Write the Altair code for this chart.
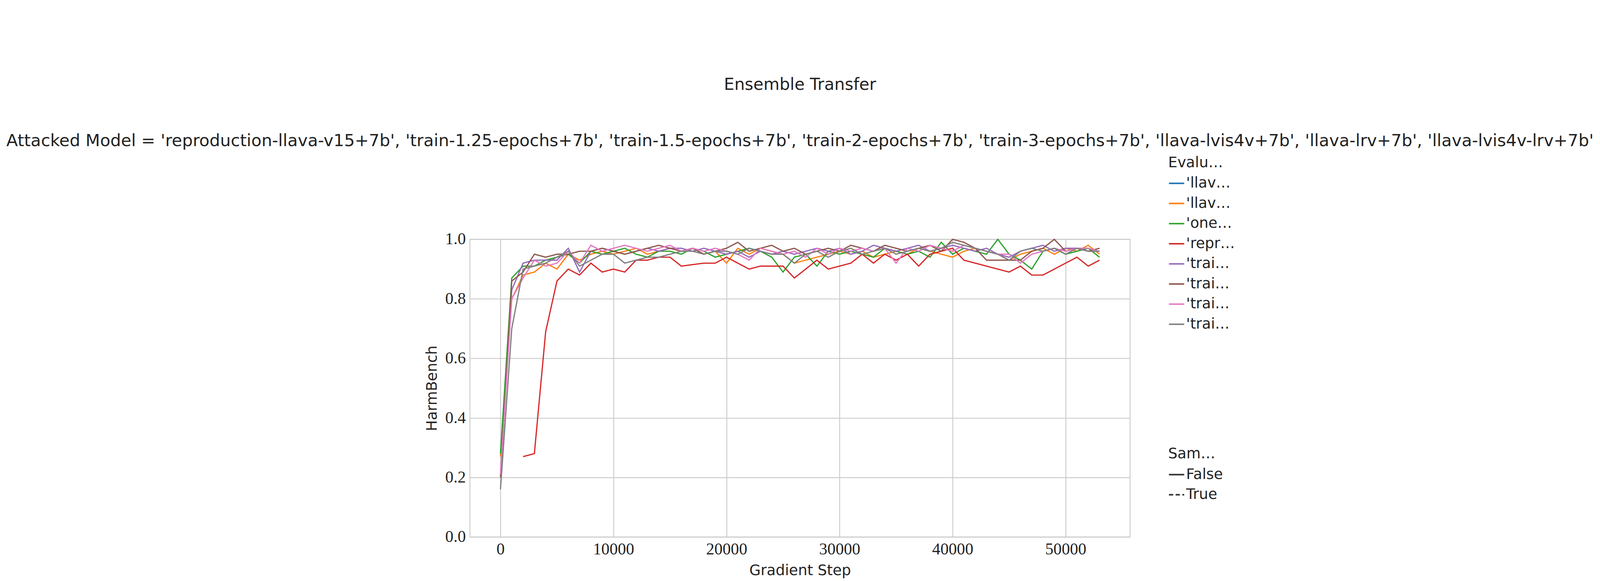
import altair as alt
import pandas as pd

steps = [i * 1000 for i in range(54)]

models = ["'llava-lrv+7b'", "'llava-lvis4v+7b'", "'one-stage+7b'", "'reproduction-llava-v15+7b'",
          "'train-1.25-epochs+7b'", "'train-1.5-epochs+7b'", "'train-2-epochs+7b'", "'train-3-epochs+7b'"]
colors = ["#1f77b4", "#ff7f0e", "#2ca02c", "#d62728", "#9467bd", "#8c564b", "#e377c2", "#7f7f7f"]

orange = [0.27, 0.80, 0.88, 0.89, 0.92, 0.90, 0.95, 0.93, 0.95, 0.96, 0.95, 0.96, 0.97, 0.95, 0.96, 0.97,
          0.96, 0.97, 0.95, 0.96, 0.92, 0.97, 0.95, 0.97, 0.96, 0.95, 0.92, 0.93, 0.94, 0.95, 0.96, 0.95,
          0.96, 0.94, 0.95, 0.96, 0.95, 0.97, 0.96, 0.95, 0.94, 0.96, 0.97, 0.96, 0.95, 0.93, 0.95, 0.96,
          0.97, 0.95, 0.97, 0.96, 0.98, 0.95]
green = [0.28, 0.87, 0.91, 0.91, 0.93, 0.94, 0.95, 0.92, 0.96, 0.95, 0.96, 0.97, 0.95, 0.94, 0.96, 0.96,
         0.95, 0.97, 0.96, 0.94, 0.95, 0.96, 0.97, 0.96, 0.94, 0.89, 0.94, 0.95, 0.91, 0.96, 0.95, 0.96,
         0.95, 0.94, 0.97, 0.96, 0.95, 0.96, 0.94, 0.99, 0.95, 0.97, 0.96, 0.95, 1.00, 0.95, 0.93, 0.90,
         0.96, 0.97, 0.95, 0.96, 0.97, 0.94]
red = [None, None, 0.27, 0.28, 0.69, 0.86, 0.90, 0.88, 0.92, 0.89, 0.90, 0.89, 0.93, 0.93, 0.94, 0.94,
       0.91, 0.915, 0.92, 0.92, 0.94, 0.92, 0.90, 0.91, 0.91, 0.91, 0.87, 0.90, 0.93, 0.90, 0.91, 0.92,
       0.95, 0.92, 0.95, 0.93, 0.95, 0.91, 0.95, 0.96, 0.97, 0.93, 0.92, 0.91, 0.90, 0.89, 0.91, 0.88,
       0.88, 0.90, 0.92, 0.94, 0.91, 0.93]
purple = [0.21, 0.83, 0.92, 0.93, 0.93, 0.93, 0.97, 0.89, 0.96, 0.97, 0.96, 0.95, 0.96, 0.97, 0.96, 0.97,
          0.97, 0.96, 0.97, 0.96, 0.95, 0.96, 0.94, 0.96, 0.95, 0.96, 0.95, 0.96, 0.97, 0.96, 0.97, 0.95,
          0.96, 0.98, 0.97, 0.96, 0.97, 0.98, 0.96, 0.97, 0.98, 0.97, 0.96, 0.97, 0.95, 0.94, 0.96, 0.97,
          0.98, 0.96, 0.97, 0.97, 0.96, 0.96]
brown = [0.20, 0.86, 0.89, 0.95, 0.94, 0.95, 0.95, 0.96, 0.96, 0.97, 0.96, 0.95, 0.96, 0.97, 0.98, 0.97,
         0.96, 0.97, 0.95, 0.96, 0.97, 0.99, 0.96, 0.97, 0.98, 0.96, 0.97, 0.95, 0.96, 0.97, 0.96, 0.98,
         0.97, 0.96, 0.98, 0.97, 0.96, 0.97, 0.98, 0.96, 1.00, 0.99, 0.97, 0.93, 0.93, 0.93, 0.93, 0.96,
         0.97, 1.00, 0.96, 0.97, 0.96, 0.97]
pink = [0.21, 0.80, 0.87, 0.93, 0.91, 0.92, 0.96, 0.92, 0.98, 0.96, 0.97, 0.98, 0.97, 0.96, 0.97, 0.98,
        0.96, 0.97, 0.96, 0.97, 0.96, 0.95, 0.93, 0.97, 0.96, 0.95, 0.96, 0.94, 0.97, 0.95, 0.97, 0.96,
        0.97, 0.96, 0.97, 0.92, 0.97, 0.96, 0.98, 0.97, 0.96, 0.98, 0.97, 0.96, 0.95, 0.95, 0.92, 0.95,
        0.96, 0.97, 0.96, 0.97, 0.97, 0.96]
gray = [0.16, 0.70, 0.90, 0.91, 0.92, 0.94, 0.96, 0.91, 0.93, 0.95, 0.95, 0.92, 0.93, 0.94, 0.94, 0.95,
        0.96, 0.96, 0.95, 0.96, 0.96, 0.95, 0.97, 0.96, 0.95, 0.95, 0.92, 0.95, 0.96, 0.94, 0.96, 0.97,
        0.95, 0.96, 0.97, 0.95, 0.96, 0.97, 0.96, 0.97, 0.99, 0.98, 0.97, 0.96, 0.95, 0.93, 0.96, 0.97,
        0.96, 0.97, 0.95, 0.97, 0.96, 0.96]

series = {models[1]: orange, models[2]: green, models[3]: red, models[4]: purple,
          models[5]: brown, models[6]: pink, models[7]: gray}

rows = []
for name, vals in series.items():
    for s, v in zip(steps, vals):
        if v is not None:
            rows.append({"step": s, "score": v, "model": name, "same": "False"})
df = pd.DataFrame(rows)

subtitle = ("Attacked Model = 'reproduction-llava-v15+7b', 'train-1.25-epochs+7b', 'train-1.5-epochs+7b', "
            "'train-2-epochs+7b', 'train-3-epochs+7b', 'llava-lvis4v+7b', 'llava-lrv+7b', 'llava-lvis4v-lrv+7b'")

fs = 48
chart = alt.Chart(df).mark_line(strokeWidth=4).encode(
    x=alt.X("step:Q", title="Gradient Step", scale=alt.Scale(domain=[-2700, 55700], nice=False, zero=False),
            axis=alt.Axis(values=[0, 10000, 20000, 30000, 40000, 50000], format="d")),
    y=alt.Y("score:Q", title="HarmBench", scale=alt.Scale(domain=[0, 1]),
            axis=alt.Axis(values=[0, 0.2, 0.4, 0.6, 0.8, 1.0], format=".1f")),
    color=alt.Color("model:N", title="Evaluated Model", scale=alt.Scale(domain=models, range=colors),
                    legend=alt.Legend(orient="none", legendX=2290, legendY=-275, symbolType="stroke",
                                      symbolStrokeWidth=5, symbolSize=2500, rowPadding=14)),
    strokeDash=alt.StrokeDash("same:N", title="Same Model",
                              scale=alt.Scale(domain=["False", "True"], range=[[1, 0], [14, 8]]),
                              legend=alt.Legend(orient="none", legendX=2290, legendY=680, symbolType="stroke",
                                                symbolStrokeColor="#333", symbolStrokeWidth=5,
                                                symbolSize=2500, rowPadding=14)),
    detail="model:N",
).properties(
    width=2165, height=976,
    padding={"left": 10, "top": 8, "right": 10, "bottom": 10},
    title=alt.Title("Ensemble Transfer", subtitle=subtitle, fontSize=54, subtitleFontSize=55,
                    font="DejaVu Sans", subtitleFont="DejaVu Sans", fontWeight="normal",
                    color="#222", subtitleColor="#222", anchor="middle", offset=20, subtitlePadding=130),
).configure(background="white").configure_view(stroke="#ccc", strokeWidth=3).configure_axis(
    grid=True, gridColor="#cccccc", gridWidth=3, domain=False, ticks=False,
    labelFont="Liberation Serif", labelFontSize=fs + 6, labelColor="#222", labelPadding=14,
    titleFont="DejaVu Sans", titleFontSize=fs, titleFontWeight="normal", titleColor="#222", titlePadding=18,
).configure_legend(
    titleFont="DejaVu Sans", titleFontSize=fs, titleFontWeight="normal", titleColor="#222",
    labelFont="DejaVu Sans", labelFontSize=fs, labelColor="#222", titlePadding=16,
)

chart.save("out.html", embed_options={"renderer": "svg", "actions": False})
